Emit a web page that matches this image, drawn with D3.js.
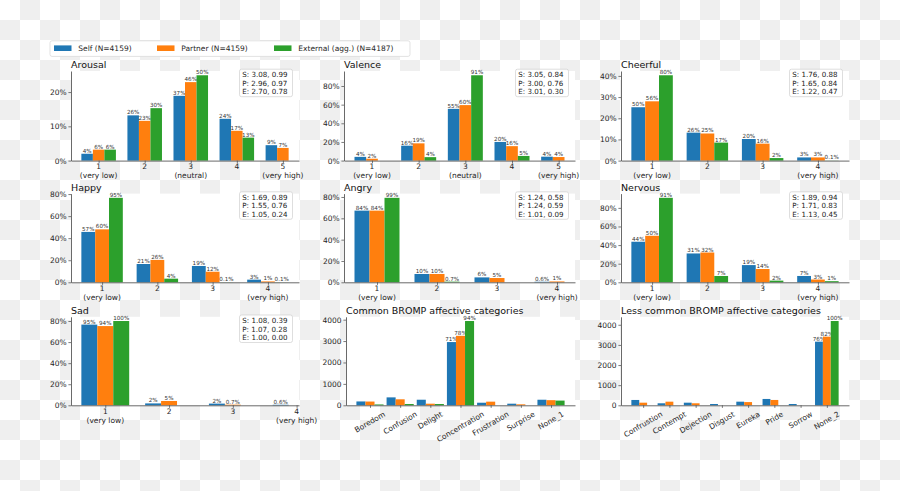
<!DOCTYPE html>
<html><head><meta charset="utf-8">
<script src="https://cdn.jsdelivr.net/npm/d3@7"></script>
<style>
body{margin:0;background:#fff;}
svg{display:block;font-family:"DejaVu Sans",sans-serif;}
</style></head><body>
<svg id="chart" width="900" height="491"></svg>
<script>
// ---------- DATA ----------
const seriesNames = ["Self (N=4159)", "Partner (N=4159)", "External (agg.) (N=4187)"];
const seriesColors = ["#1f77b4", "#ff7f0e", "#2ca02c"];

const cats5 = ["1\n(very low)", "2", "3\n(neutral)", "4", "5\n(very high)"];
const cats4 = ["1\n(very low)", "2", "3", "4\n(very high)"];
const pctTicks20 = [0, 20, 40, 60, 80];

const arousalSelf = [2.0, 13.2, 18.9, 12.2, 4.5];
const arousalPartner = [3.2, 11.6, 22.9, 8.7, 3.7];
const arousalExternal = [3.2, 15.3, 24.9, 6.7, null];
const arousalSelfLbl = ["4%", "26%", "37%", "24%", "9%"];
const arousalPartnerLbl = ["6%", "23%", "46%", "17%", "7%"];
const arousalExternalLbl = ["6%", "30%", "50%", "13%", null];
const arousalStats = ["S: 3.08, 0.99", "P: 2.96, 0.97", "E: 2.70, 0.78"];
const arousalTicks = [0, 10, 20];

const valenceSelf = [4.0, 16.0, 55.5, 20.0, 4.2];
const valencePartner = [2.0, 18.5, 59.5, 15.5, 3.8];
const valenceExternal = [null, 3.7, 91.5, 5.0, null];
const valenceSelfLbl = ["4%", "16%", "55%", "20%", "4%"];
const valencePartnerLbl = ["2%", "19%", "60%", "16%", "4%"];
const valenceExternalLbl = [null, "4%", "91%", "5%", null];
const valenceStats = ["S: 3.05, 0.84", "P: 3.00, 0.76", "E: 3.01, 0.30"];

const cheerfulSelf = [25.2, 13.2, 10.2, 1.5];
const cheerfulPartner = [28.0, 12.8, 8.0, 1.5];
const cheerfulExternal = [40.3, 8.5, 1.2, 0.05];
const cheerfulSelfLbl = ["50%", "26%", "20%", "3%"];
const cheerfulPartnerLbl = ["56%", "25%", "16%", "3%"];
const cheerfulExternalLbl = ["80%", "17%", "2%", "0.1%"];
const cheerfulStats = ["S: 1.76, 0.88", "P: 1.65, 0.84", "E: 1.22, 0.47"];
const cheerfulTicks = [0, 10, 20, 30, 40];

const happySelf = [45.7, 16.6, 14.8, 2.4];
const happyPartner = [48.0, 20.3, 9.6, 0.8];
const happyExternal = [76.6, 3.3, 0.08, 0.08];
const happySelfLbl = ["57%", "21%", "19%", "3%"];
const happyPartnerLbl = ["60%", "26%", "12%", "1%"];
const happyExternalLbl = ["95%", "4%", "0.1%", "0.1%"];
const happyStats = ["S: 1.69, 0.89", "P: 1.55, 0.76", "E: 1.05, 0.24"];

const angrySelf = [67.2, 7.8, 4.6, 0.5];
const angryPartner = [67.2, 7.8, 4.0, 0.8];
const angryExternal = [79.2, 0.6, null, null];
const angrySelfLbl = ["84%", "10%", "6%", "0.6%"];
const angryPartnerLbl = ["84%", "10%", "5%", "1%"];
const angryExternalLbl = ["99%", "0.7%", null, null];
const angryStats = ["S: 1.24, 0.58", "P: 1.24, 0.59", "E: 1.01, 0.09"];

const nervousSelf = [43.6, 31.0, 18.5, 6.8];
const nervousPartner = [50.0, 32.0, 14.3, 3.0];
const nervousExternal = [90.8, 6.8, 1.8, 1.2];
const nervousSelfLbl = ["44%", "31%", "19%", "7%"];
const nervousPartnerLbl = ["50%", "32%", "14%", "3%"];
const nervousExternalLbl = ["91%", "7%", "2%", "1%"];
const nervousStats = ["S: 1.89, 0.94", "P: 1.71, 0.83", "E: 1.13, 0.45"];

const sadSelf = [76.6, 1.8, 1.6, 0.5];
const sadPartner = [75.2, 4.1, 0.6, null];
const sadExternal = [80.0, null, null, null];
const sadSelfLbl = ["95%", "2%", "2%", "0.6%"];
const sadPartnerLbl = ["94%", "5%", "0.7%", null];
const sadExternalLbl = ["100%", null, null, null];
const sadStats = ["S: 1.08, 0.39", "P: 1.07, 0.28", "E: 1.00, 0.00"];

const commonCats = ["Boredom", "Confusion", "Delight", "Concentration", "Frustration", "Surprise", "None_1"];
const commonSelf = [180, 370, 260, 2953, 120, 75, 260];
const commonPartner = [175, 280, 75, 3244, 170, 45, 240];
const commonExternal = [40, 60, 60, 3936, 0, 0, 220];
const commonSelfLbl = [null, null, null, "71%", null, null, null];
const commonPartnerLbl = [null, null, null, "78%", null, null, null];
const commonExternalLbl = [null, null, null, "94%", null, null, null];

const lessCats = ["Confrustion", "Contempt", "Dejection", "Disgust", "Eureka", "Pride", "Sorrow", "None_2"];
const lessSelf = [265, 100, 130, 65, 180, 315, 65, 3161];
const lessPartner = [130, 180, 100, 0, 160, 265, 0, 3410];
const lessExternal = [0, 0, 0, 0, 0, 0, 0, 4187];
const lessSelfLbl = [null, null, null, null, null, null, null, "76%"];
const lessPartnerLbl = [null, null, null, null, null, null, null, "82%"];
const lessExternalLbl = [null, null, null, null, null, null, null, "100%"];
const countTicks = [0, 1000, 2000, 3000, 4000];

// ---------- LAYOUT ----------
const colLeft = [71, 344, 621];
const colRight = [299, 575, 849];
const rowTop = [71, 193.6, 316.8];
const rowBottom = [160.6, 282.3, 405.3];

const panels = [
  {title:"Arousal", col:0,row:0,cats:cats5,vals:[arousalSelf,arousalPartner,arousalExternal],lbls:[arousalSelfLbl,arousalPartnerLbl,arousalExternalLbl],stats:arousalStats,ticks:arousalTicks,pct:true,bw:0.25},
  {title:"Valence", col:1,row:0,cats:cats5,vals:[valenceSelf,valencePartner,valenceExternal],lbls:[valenceSelfLbl,valencePartnerLbl,valenceExternalLbl],stats:valenceStats,ticks:pctTicks20,pct:true,bw:0.25},
  {title:"Cheerful", col:2,row:0,cats:cats4,vals:[cheerfulSelf,cheerfulPartner,cheerfulExternal],lbls:[cheerfulSelfLbl,cheerfulPartnerLbl,cheerfulExternalLbl],stats:cheerfulStats,ticks:cheerfulTicks,pct:true,bw:0.25},
  {title:"Happy", col:0,row:1,cats:cats4,vals:[happySelf,happyPartner,happyExternal],lbls:[happySelfLbl,happyPartnerLbl,happyExternalLbl],stats:happyStats,ticks:pctTicks20,pct:true,bw:0.25},
  {title:"Angry", col:1,row:1,cats:cats4,vals:[angrySelf,angryPartner,angryExternal],lbls:[angrySelfLbl,angryPartnerLbl,angryExternalLbl],stats:angryStats,ticks:pctTicks20,pct:true,bw:0.25},
  {title:"Nervous", col:2,row:1,cats:cats4,vals:[nervousSelf,nervousPartner,nervousExternal],lbls:[nervousSelfLbl,nervousPartnerLbl,nervousExternalLbl],stats:nervousStats,ticks:pctTicks20,pct:true,bw:0.25},
  {title:"Sad", col:0,row:2,cats:cats4,vals:[sadSelf,sadPartner,sadExternal],lbls:[sadSelfLbl,sadPartnerLbl,sadExternalLbl],stats:sadStats,ticks:pctTicks20,pct:true,bw:0.25},
  {title:"Common BROMP affective categories", col:1,row:2,left:346,cats:commonCats,vals:[commonSelf,commonPartner,commonExternal],lbls:[commonSelfLbl,commonPartnerLbl,commonExternalLbl],stats:null,ticks:countTicks,pct:false,bw:0.3,rot:true},
  {title:"Less common BROMP affective categories", col:2,row:2,cats:lessCats,vals:[lessSelf,lessPartner,lessExternal],lbls:[lessSelfLbl,lessPartnerLbl,lessExternalLbl],stats:null,ticks:countTicks,pct:false,bw:0.3,rot:true}
];

const svg = d3.select("#chart");
const TXT = "#262626";

// checkerboard background (transparent figure)
const defs = svg.append("defs");
const pat = defs.append("pattern").attr("id","checker").attr("width",40).attr("height",40).attr("patternUnits","userSpaceOnUse");
pat.append("rect").attr("width",40).attr("height",40).attr("fill","#ffffff");
pat.append("rect").attr("x",20).attr("y",0).attr("width",20).attr("height",20).attr("fill","#efefef");
pat.append("rect").attr("x",0).attr("y",20).attr("width",20).attr("height",20).attr("fill","#efefef");
svg.append("rect").attr("width",900).attr("height",491).attr("fill","url(#checker)");

panels.forEach(p => {
  const left = p.left != null ? p.left : colLeft[p.col];
  const right = colRight[p.col], top = rowTop[p.row], bottom = rowBottom[p.row];
  const g = svg.append("g");
  const n = p.cats.length, w = p.bw;
  let minE = Infinity, maxE = -Infinity;
  p.vals.forEach((arr, si) => arr.forEach((v, i) => {
    if (v == null) return;
    const c = i + (si - 1) * w;
    minE = Math.min(minE, c - w / 2); maxE = Math.max(maxE, c + w / 2);
  }));
  const m = (maxE - minE) * 0.05;
  const x = d3.scaleLinear().domain([minE - m, maxE + m]).range([left, right]);
  const ymax = d3.max(p.vals.flat().filter(v => v != null)) * 1.05;
  const y = d3.scaleLinear().domain([0, ymax]).range([bottom, top]);

  g.append("rect").attr("x", left).attr("y", top).attr("width", right - left).attr("height", bottom - top).attr("fill", "#fff");

  // bars
  p.vals.forEach((arr, si) => {
    const items = arr.map((v, i) => ({v, i, l: p.lbls[si][i]})).filter(d => d.v != null);
    g.selectAll(null).data(items).enter().append("rect")
      .attr("x", d => x(d.i + (si - 1) * w - w / 2))
      .attr("width", d => x(d.i + (si - 1) * w + w / 2) - x(d.i + (si - 1) * w - w / 2))
      .attr("y", d => y(d.v))
      .attr("height", d => Math.max(0, y(0) - y(d.v)))
      .attr("fill", seriesColors[si]);
    g.selectAll(null).data(items.filter(d => d.l)).enter().append("text")
      .attr("x", d => x(d.i + (si - 1) * w))
      .attr("y", d => y(d.v) - 1)
      .attr("text-anchor", "middle")
      .attr("font-size", 5.6).attr("fill", "#333")
      .text(d => d.l);
  });

  // y axis
  const ya = d3.axisLeft(y).tickValues(p.ticks).tickSize(2.6).tickSizeOuter(0).tickPadding(1.8)
    .tickFormat(d => p.pct ? d + "%" : String(d));
  const yg = g.append("g").attr("transform", `translate(${left},0)`).call(ya);
  yg.select(".domain").attr("stroke", "#444").attr("stroke-width", 0.8);
  yg.selectAll(".tick line").attr("stroke", "#444").attr("stroke-width", 0.7);
  yg.selectAll(".tick text").attr("font-size", 7.5).attr("fill", TXT).attr("font-family", "DejaVu Sans");

  // x axis
  const xa = d3.axisBottom(x).tickValues(d3.range(n)).tickSize(2.6).tickSizeOuter(0).tickFormat("");
  const xg = g.append("g").attr("transform", `translate(0,${bottom})`).call(xa);
  xg.select(".domain").attr("stroke", "#444").attr("stroke-width", 0.8);
  xg.selectAll(".tick line").attr("stroke", "#444").attr("stroke-width", 0.7);

  p.cats.forEach((c, i) => {
    if (!p.rot) {
      const lines = c.split("\n");
      const t = g.append("text").attr("text-anchor", "middle").attr("font-size", 7.5).attr("fill", TXT);
      lines.forEach((ln, k) => t.append("tspan").attr("x", x(i)).attr("y", bottom + 8.6 + k * 8.7).text(ln));
    } else {
      const t = g.append("text").attr("text-anchor", "middle").attr("dominant-baseline", "central")
        .attr("font-size", 7.5).attr("fill", TXT).text(c);
      const tw = t.node().getComputedTextLength();
      const th = 8.7;
      const a = Math.PI / 6;
      const bh = tw * Math.sin(a) + th * Math.cos(a);
      const cx = x(i), cy = bottom + 4.5 + bh / 2;
      t.attr("x", cx).attr("y", cy).attr("transform", `rotate(-30,${cx},${cy})`);
    }
  });

  // title
  g.append("text").attr("x", left).attr("y", top - 3).attr("font-size", 9.5).attr("fill", "#111").text(p.title);

  // stats box
  if (p.stats) {
    const bw = 53, bh = 27.5;
    const bx = right - 6.5 - bw, by = top - 1.8;
    g.append("rect").attr("x", bx).attr("y", by).attr("width", bw).attr("height", bh).attr("rx", 2)
      .attr("fill", "#fff").attr("fill-opacity", 0.85).attr("stroke", "#d0d0d0").attr("stroke-width", 0.7);
    p.stats.forEach((s, k) => g.append("text").attr("x", bx + 2.8).attr("y", by + 8 + k * 8.5)
      .attr("font-size", 7.1).attr("fill", "#222").text(s));
  }
});

// legend
const lg = svg.append("g");
lg.append("rect").attr("x", 50).attr("y", 40.8).attr("width", 360).attr("height", 15.6).attr("rx", 2)
  .attr("fill", "#fff").attr("fill-opacity", 0.9).attr("stroke", "#d6d6d6").attr("stroke-width", 0.7);
const legX = [54, 157, 274];
seriesNames.forEach((s, i) => {
  lg.append("rect").attr("x", legX[i]).attr("y", 45.4).attr("width", 17.5).attr("height", 5.6).attr("fill", seriesColors[i]);
  lg.append("text").attr("x", legX[i] + 24.3).attr("y", 51.2).attr("font-size", 7.5).attr("fill", TXT).text(s);
});
</script>
</body></html>
